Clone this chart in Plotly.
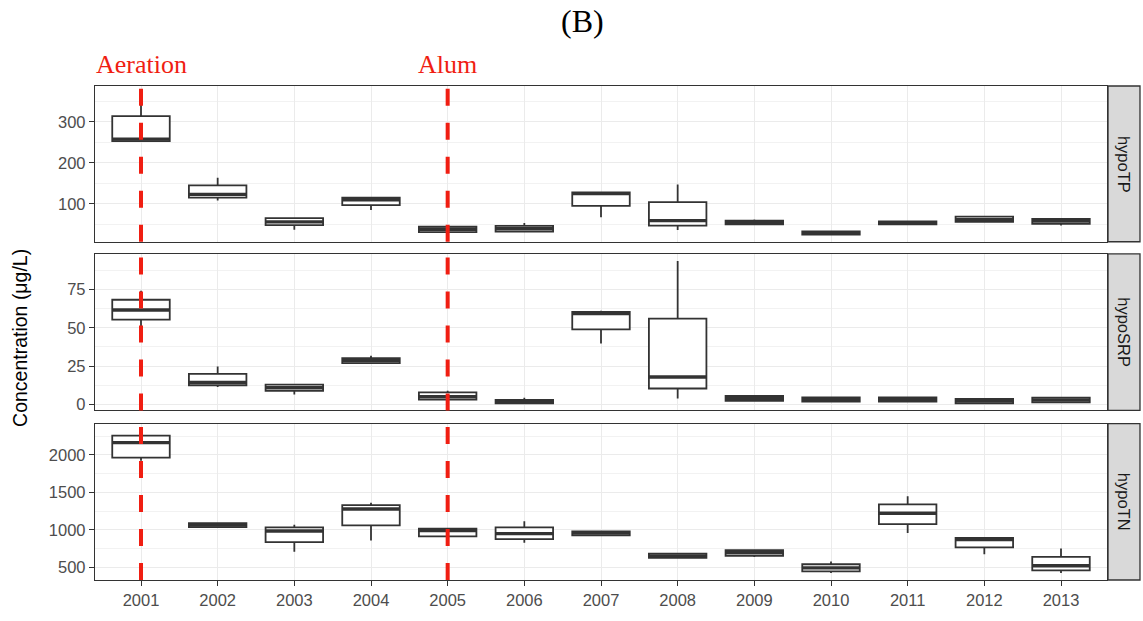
import plotly.graph_objects as go

years = [2001, 2002, 2003, 2004, 2005, 2006, 2007, 2008, 2009, 2010, 2011, 2012, 2013]
panels = ["hypoTP", "hypoSRP", "hypoTN"]

# hypoTP (ug/L)
tp_lo  = [253, 108, 37, 85, 29, 31, 67, 36, 49, 24, 50, 54, 47]
tp_q1  = [253, 115, 48, 97, 31, 32, 95, 47, 50, 25, 50, 56, 51]
tp_med = [258, 123, 56, 110, 38, 39, 125, 59, 55, 29, 53, 61, 58]
tp_q3  = [314, 145, 65, 115, 44, 46, 128, 104, 59, 33, 57, 69, 63]
tp_hi  = [370, 164, 65, 115, 45, 53, 128, 147, 62, 34, 58, 70, 64]

# hypoSRP (ug/L)
srp_lo  = [50, 11.5, 6.6, 27, 3.2, 0.8, 39.7, 4, 2.4, 1.9, 1.9, 0.9, 1.5]
srp_q1  = [55.3, 12.6, 9, 27, 3.2, 0.9, 49, 10.5, 2.4, 1.9, 1.9, 0.9, 1.5]
srp_med = [61.5, 14.5, 11, 28.6, 5.1, 1.5, 59.2, 18, 4, 3.3, 3.5, 2.5, 3]
srp_q3  = [68.2, 20, 13, 30.3, 7.9, 3, 60.3, 56, 5.6, 4.7, 4.7, 3.8, 4.5]
srp_hi  = [74, 24.8, 13, 31.8, 9, 4.5, 61, 93.4, 6.2, 4.9, 4.7, 3.8, 4.5]

# hypoTN (ug/L)
tn_lo  = [1921, 1025, 710, 858, 915, 828, 928, 627, 640, 425, 959, 675, 425]
tn_q1  = [1961, 1038, 837, 1060, 915, 876, 928, 627, 653, 447, 1077, 767, 460]
tn_med = [2162, 1065, 985, 1278, 990, 950, 959, 653, 696, 495, 1221, 872, 522]
tn_q3  = [2254, 1090, 1033, 1331, 1016, 1033, 981, 683, 731, 543, 1340, 893, 640]
tn_hi  = [2320, 1090, 1068, 1361, 1016, 1116, 981, 696, 731, 578, 1449, 893, 753]

tp_ticks = [100, 200, 300]
srp_ticks = [0, 25, 50, 75]
tn_ticks = [500, 1000, 1500, 2000]
tp_minor = [50, 150, 250, 350]
srp_minor = [12.5, 37.5, 62.5, 87.5]
tn_minor = [750, 1250, 1750, 2250]

events = [2001, 2005]
event_labels = ["Aeration", "Alum"]
title_text = "(B)"
y_title = "Concentration (μg/L)"

stats = [
    (tp_lo, tp_q1, tp_med, tp_q3, tp_hi, tp_ticks, tp_minor, [7.4, 387.8]),
    (srp_lo, srp_q1, srp_med, srp_q3, srp_hi, srp_ticks, srp_minor, [-3.8, 98]),
    (tn_lo, tn_q1, tn_med, tn_q3, tn_hi, tn_ticks, tn_minor, [333, 2416]),
]
domains = [[0.6847, 1.0], [0.3432, 0.66], [0.0, 0.3167]]

DARK = "#333333"
RED = "#F01E12"
SANS = "Liberation Sans, Arial, sans-serif"
SERIF = "Liberation Serif, Times New Roman, serif"
BW = 0.75

idx = list(range(len(years)))
fig = go.Figure()
layout = {}
shapes = []
annotations = []

for p, (lo, q1, med, q3, hi, ticks, minor, yr) in enumerate(stats):
    n = "" if p == 0 else str(p + 1)
    xa, ya = "x" + n, "y" + n
    fig.add_trace(go.Box(
        x=idx, lowerfence=lo, q1=q1, median=med, q3=q3, upperfence=hi,
        width=BW, fillcolor="white", line=dict(color=DARK, width=1.8),
        whiskerwidth=0, boxpoints=False, showlegend=False,
        xaxis=xa, yaxis=ya, hoverinfo="skip"))
    mx, my = [], []
    for i, m in zip(idx, med):
        mx += [i - BW / 2, i + BW / 2, None]
        my += [m, m, None]
    fig.add_trace(go.Scatter(x=mx, y=my, mode="lines",
                             line=dict(color=DARK, width=3.4),
                             showlegend=False, xaxis=xa, yaxis=ya, hoverinfo="skip"))
    bottom = p == len(stats) - 1
    layout["xaxis" + n] = dict(
        domain=[0, 1], anchor=ya, range=[-0.6, len(years) - 0.4],
        tickvals=idx, ticktext=[str(y) for y in years],
        showticklabels=bottom, ticks="outside" if bottom else "",
        ticklen=5, tickwidth=1.3, tickcolor=DARK,
        tickfont=dict(family=SANS, size=16.5, color="#4D4D4D"),
        showgrid=True, gridcolor="#EBEBEB", gridwidth=1.2,
        showline=True, mirror=True, linecolor=DARK, linewidth=1.3,
        zeroline=False, **({} if p == 0 else {"matches": "x"}))
    layout["yaxis" + n] = dict(
        domain=domains[p], anchor=xa, range=yr,
        tickvals=ticks, ticks="outside", ticklen=5, tickwidth=1.3, tickcolor=DARK,
        tickfont=dict(family=SANS, size=16.5, color="#4D4D4D"),
        showgrid=True, gridcolor="#EBEBEB", gridwidth=1.2,
        minor=dict(tickvals=minor, showgrid=True, gridcolor="#F2F2F2", gridwidth=0.7, ticks=""),
        showline=True, mirror=True, linecolor=DARK, linewidth=1.3, zeroline=False)
    for ev in events:
        xi = years.index(ev)
        shapes.append(dict(type="line", xref=xa, yref=ya + " domain",
                           x0=xi, x1=xi, y0=0, y1=1,
                           line=dict(color=RED, width=4, dash="17px,17px")))
    shapes.append(dict(type="rect", xref="paper", yref=ya + " domain",
                       x0=1.001, x1=1.0326, y0=0, y1=1,
                       fillcolor="#D9D9D9", line=dict(color=DARK, width=1.3)))
    annotations.append(dict(text=panels[p], xref="paper", yref=ya + " domain",
                            x=1.0168, y=0.5, xanchor="center", yanchor="middle",
                            showarrow=False, textangle=90,
                            font=dict(family=SANS, size=16.5, color="#1A1A1A")))

for ev, lab in zip(events, event_labels):
    annotations.append(dict(text=lab, xref="x", yref="paper", x=years.index(ev),
                            y=1.0438, xanchor="center", yanchor="middle", showarrow=False,
                            font=dict(family=SERIF, size=26, color=RED)))

annotations.append(dict(text=title_text, xref="paper", yref="paper", x=0.482, y=1.1315,
                        xanchor="center", yanchor="middle", showarrow=False,
                        font=dict(family=SERIF, size=32, color="black")))
annotations.append(dict(text=y_title, xref="paper", yref="paper", x=-0.0741, y=0.49,
                        xanchor="center", yanchor="middle", showarrow=False, textangle=-90,
                        font=dict(family=SANS, size=19.5, color="black")))

fig.update_layout(
    width=1143, height=621,
    margin=dict(l=95, r=36, t=86, b=33),
    paper_bgcolor="white", plot_bgcolor="white",
    shapes=shapes, annotations=annotations, showlegend=False,
    **layout)

fig.write_html("out.html")
